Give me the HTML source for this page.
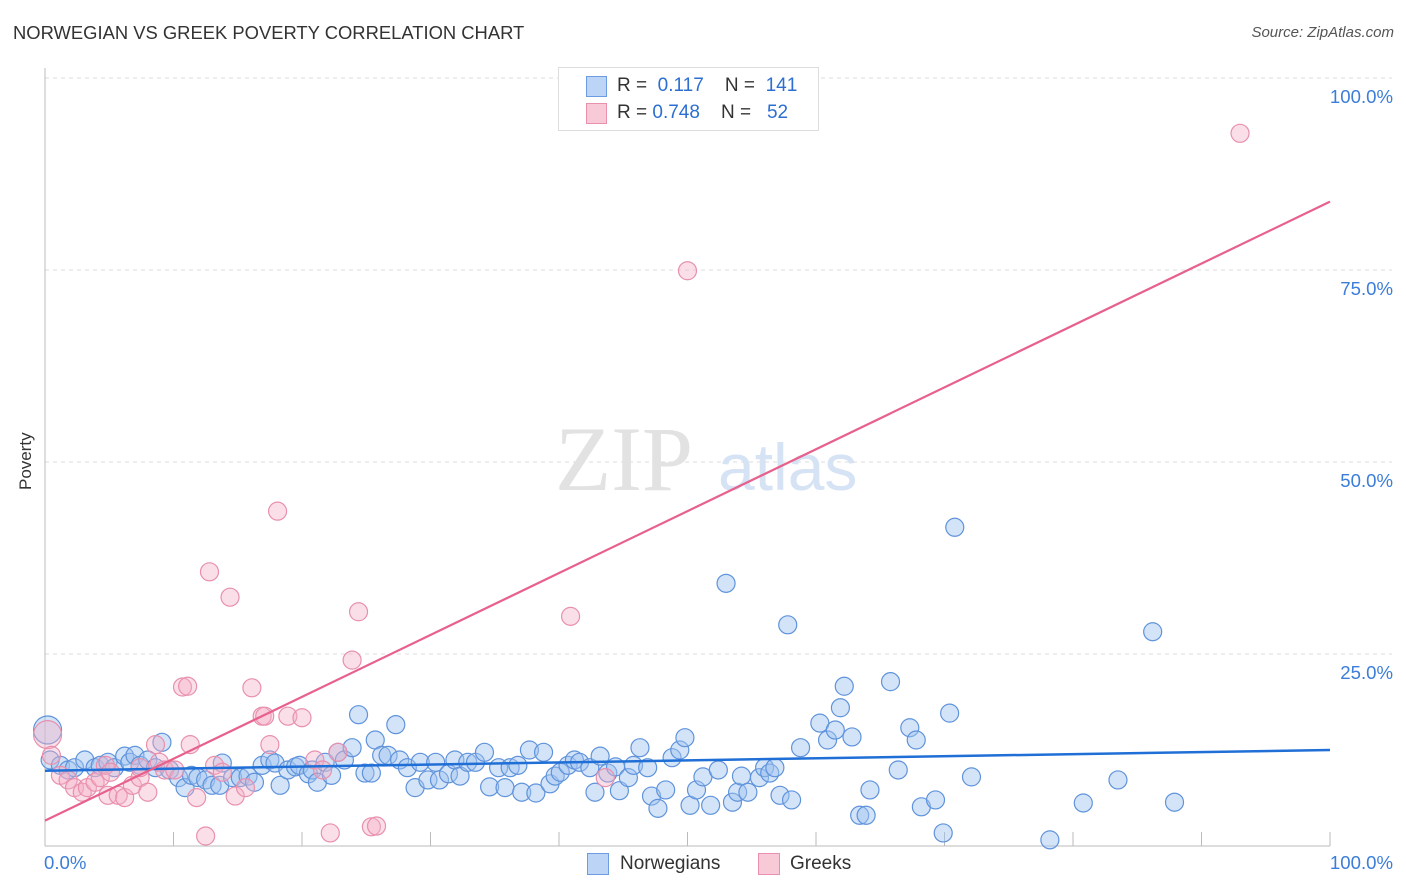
<!DOCTYPE html>
<html><head><meta charset="utf-8"><style>
body{margin:0;background:#fff;font-family:"Liberation Sans",sans-serif;}
#wrap{position:relative;width:1406px;height:892px;overflow:hidden;}
.t{position:absolute;white-space:nowrap;}
</style></head><body>
<div id="wrap">
<div class="t" style="left:13px;top:22px;font-size:18.4px;color:#333;">NORWEGIAN VS GREEK POVERTY CORRELATION CHART</div>
<div class="t" style="right:12px;top:24px;font-size:15px;color:#555;font-style:italic;">Source: ZipAtlas.com</div>
<svg id="svg" width="1406" height="892" style="position:absolute;left:0;top:0;"></svg>
</div>
<script>
const blueX=[0.2,0.4,1.2,1.8,2.3,3.1,3.9,4.3,4.9,5.4,6.2,6.6,7.0,7.4,8.0,8.6,9.1,9.7,10.4,10.9,11.4,11.9,12.5,13.0,13.6,13.8,14.6,15.2,15.8,16.3,16.9,17.5,17.9,18.3,18.9,19.5,19.8,20.5,20.8,21.2,21.8,22.3,22.8,23.3,23.9,24.4,24.9,25.4,25.7,26.2,26.7,27.3,27.6,28.2,28.8,29.2,29.8,30.4,30.7,31.4,31.9,32.3,32.9,33.5,34.2,34.6,35.3,35.8,36.2,36.8,37.1,37.7,38.2,38.8,39.3,39.7,40.1,40.7,41.2,41.6,42.4,42.8,43.2,43.8,44.4,44.7,45.4,45.8,46.3,46.9,47.2,47.7,48.3,48.8,49.4,49.8,50.2,50.7,51.2,51.8,52.4,53.0,53.5,53.9,54.2,54.7,55.6,56.0,56.4,56.8,57.2,57.8,58.1,58.8,60.3,60.9,61.5,61.9,62.2,62.8,63.4,63.9,64.2,65.8,66.4,67.3,67.8,68.2,69.3,70.4,70.8,69.9,72.1,78.2,80.8,83.5,86.2,87.9];
const blueY=[15.1,11.2,10.5,9.9,10.2,11.2,10.2,10.5,10.9,10.2,11.7,10.9,11.8,10.5,11.2,10.2,13.5,9.9,8.9,7.6,9.2,8.9,8.6,7.9,7.9,10.8,8.9,8.9,9.1,8.3,10.5,11.2,10.8,7.9,9.9,10.3,10.5,9.4,9.9,8.3,10.9,9.2,12.2,11.2,12.8,17.1,9.5,9.5,13.8,11.8,11.8,15.8,11.2,10.2,7.6,10.9,8.6,10.9,8.6,9.4,11.2,9.1,10.9,10.9,12.2,7.7,10.2,7.6,10.2,10.5,7.0,12.5,6.9,12.2,8.1,9.1,9.6,10.5,11.2,10.9,10.2,7.0,11.7,9.5,10.3,7.2,8.9,10.5,12.8,10.2,6.5,4.9,7.3,11.5,12.5,14.1,5.3,7.3,9.0,5.3,9.9,34.2,5.7,7.0,9.1,7.0,8.9,10.2,9.5,10.2,6.6,28.8,6.0,12.8,16.0,13.8,15.1,18.0,20.8,14.2,4.0,4.0,7.3,21.4,9.9,15.4,13.8,5.1,6.0,17.3,41.5,1.7,9.0,0.8,5.6,8.6,27.9,5.7];
const pinkX=[0.2,0.5,1.2,1.8,2.3,2.9,3.3,3.9,4.3,4.9,5.7,6.2,6.8,7.4,8.0,8.6,8.9,9.3,10.1,10.7,11.1,11.3,11.8,12.5,12.8,13.2,13.8,14.4,14.8,15.6,16.1,16.9,17.1,17.5,18.1,18.9,20.0,21.0,21.6,22.2,22.8,23.9,24.4,25.4,25.8,40.9,43.6,50.0,93.0,4.7,7.4,5.1];
const pinkY=[14.5,11.8,9.2,8.6,7.6,7.0,7.6,8.3,8.9,6.6,6.6,6.3,7.9,8.9,7.0,13.2,10.9,9.9,9.9,20.7,20.8,13.2,6.3,1.3,35.7,10.5,9.6,32.4,6.5,7.6,20.6,16.9,16.9,13.2,43.6,16.9,16.7,11.2,9.9,1.7,12.2,24.2,30.5,2.5,2.6,29.9,8.9,74.9,92.8,10.5,10.2,9.6];
const blueTrend=[9.8,12.5];
const pinkTrend=[3.3,83.9];
const yTicks=["25.0%","50.0%","75.0%","100.0%"];
const yTickVals=[25,50,75,100];

const X0=45,X1=1330,Y0=846,Y1=78;
const sx=v=>X0+(X1-X0)*v/100, sy=v=>Y0-(Y0-Y1)*v/100;
const svg=document.getElementById('svg'), NS='http://www.w3.org/2000/svg';
function mk(tag,attrs,parent){const e=document.createElementNS(NS,tag);for(const k in attrs)e.setAttribute(k,attrs[k]);(parent||svg).appendChild(e);return e;}

yTickVals.forEach((v,i)=>{
  const g=mk('line',{x1:X0,x2:1392,y1:sy(v),y2:sy(v),stroke:'#ddd','stroke-dasharray':'4,4'});
  
  
  const t=mk('text',{x:1393,y:sy(v)+25,'text-anchor':'end','font-size':18.6,fill:'#3b7dd8','font-family':'Liberation Sans, sans-serif'});
  t.textContent=yTicks[i];
  
  
});
const ya=mk('line',{x1:X0,x2:X0,y1:68,y2:Y0,stroke:'#bbb'});


const xa=mk('line',{x1:X0,x2:X1,y1:Y0,y2:Y0,stroke:'#bbb'});


for(let i=1;i<=10;i++){
  const tk=mk('line',{x1:sx(i*10),x2:sx(i*10),y1:Y0-14,y2:Y0,stroke:'#bbb'});
  
  
}
const wm=mk('text',{x:555,y:490,'font-size':92,fill:'#e2e2e2','font-family':'Liberation Serif, serif'});wm.textContent='ZIP';


const wm2=mk('text',{x:718,y:490,'font-size':66,fill:'#d6e3f5','font-family':'Liberation Sans, sans-serif'});wm2.textContent='atlas';



blueX.forEach((x,i)=>{
  const c=mk('circle',{cx:sx(x),cy:sy(blueY[i]),r:i===0?14:9,fill:'rgba(160,195,240,0.45)',stroke:'#5f93db','stroke-width':1.2});
  
  
});
pinkX.forEach((x,i)=>{
  const c=mk('circle',{cx:sx(x),cy:sy(pinkY[i]),r:i===0?14:9,fill:'rgba(245,175,198,0.4)',stroke:'#e890ae','stroke-width':1.2});
  
  
});
const bl=mk('line',{x1:sx(0),x2:sx(100),y1:sy(blueTrend[0]),y2:sy(blueTrend[1]),stroke:'#1f6fd6','stroke-width':2.5});


const pl=mk('line',{x1:sx(0),x2:sx(100),y1:sy(pinkTrend[0]),y2:sy(pinkTrend[1]),stroke:'#e8608c','stroke-width':2.2});


</script>
<div class="t" style="left:44px;top:852px;font-size:18.6px;color:#3b7dd8;">0.0%</div>
<div class="t" style="right:13px;top:852px;font-size:18.6px;color:#3b7dd8;">100.0%</div>
<div class="t" style="left:16px;top:490px;font-size:17px;color:#333;transform:rotate(-90deg);transform-origin:left top;">Poverty</div>
<div style="position:absolute;left:558px;top:67px;width:259px;height:62px;border:1px solid #ddd;background:#fff;font-size:19px;">
 <div style="position:absolute;left:27px;top:8px;width:19px;height:19px;background:#bcd4f5;border:1px solid #6d9be0;"></div>
 <div class="t" style="left:58px;top:7px;color:#333;">R = &nbsp;<span style="color:#2c6fd0">0.117</span>&nbsp;&nbsp;&nbsp; N = &nbsp;<span style="color:#2c6fd0">141</span></div>
 <div style="position:absolute;left:27px;top:35px;width:19px;height:19px;background:#f8cad8;border:1px solid #e890ae;"></div>
 <div class="t" style="left:58px;top:34px;color:#333;">R = <span style="color:#2c6fd0">0.748</span>&nbsp;&nbsp;&nbsp; N = &nbsp;&nbsp;<span style="color:#2c6fd0">52</span></div>
</div>
<div style="position:absolute;left:587px;top:853px;width:20px;height:20px;background:#bcd4f5;border:1px solid #6d9be0;"></div>
<div class="t" style="left:620px;top:853px;font-size:19px;color:#333;">Norwegians</div>
<div style="position:absolute;left:758px;top:853px;width:20px;height:20px;background:#f8cad8;border:1px solid #e890ae;"></div>
<div class="t" style="left:790px;top:853px;font-size:19px;color:#333;">Greeks</div>
</body></html>
